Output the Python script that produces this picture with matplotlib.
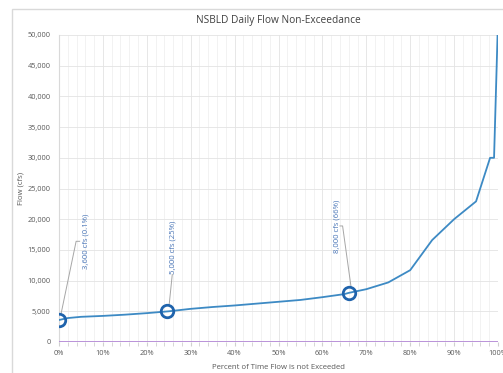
import matplotlib.pyplot as plt
from matplotlib.patches import Rectangle
from matplotlib.ticker import MultipleLocator, FuncFormatter

# Data
pct = [0.1, 2, 5, 10, 15, 20, 25, 30, 35, 40, 45, 50, 55, 60, 65, 66, 70, 75, 80, 85, 90, 95, 98.2, 99.1, 99.9]
flow = [3600, 3900, 4100, 4250, 4450, 4700, 5000, 5400, 5700, 5950, 6250, 6550, 6850, 7300, 7800, 8000,
        8600, 9700, 11700, 16600, 20000, 22900, 30000, 30000, 50000]

zero_pct = [0, 100]
zero_flow = [0, 0]

mark_pct = [0.1, 24.7, 66.1]
mark_flow = [3600, 5000, 8000]
mark_labels = ["3,600 cfs (0.1%)", "5,000 cfs (25%)", "8,000 cfs (66%)"]
label_pct = [6.1, 26.0, 63.3]
label_flow = [16400, 15500, 18900]
elbow_pct = [3.9, 25.8, 64.6]
elbow_flow = [16400, 11000, 18900]
elbow_end = [4.7, 25.8, 64.0]

fig = plt.figure(figsize=(5.03, 3.73), dpi=100)
plt.rcParams['font.family'] = ['Open Sans', 'DejaVu Sans']

# outer chart frame
fig.patches.append(Rectangle((12 / 503, -0.05), 1.0, (373 - 9) / 373 + 0.05, transform=fig.transFigure,
                             fill=False, edgecolor='#d9d9d9', linewidth=1.0))

ax = fig.add_axes([59 / 503, 31 / 373, 439 / 503, 307 / 373])

ax.plot(zero_pct, zero_flow, color='#b48ad6', linewidth=1.3, zorder=3)
ax.plot(pct, flow, color='#3d8ac4', linewidth=1.3, zorder=4)
ax.plot(mark_pct, mark_flow, linestyle='none', marker='o', markersize=9, markerfacecolor='none',
        markeredgecolor='#1f63ac', markeredgewidth=2.0, zorder=5)

for mp, mf, lab, lp, lf, ep, ef, ee in zip(mark_pct, mark_flow, mark_labels, label_pct, label_flow,
                                           elbow_pct, elbow_flow, elbow_end):
    ax.plot([mp + 0.4, ep, ee], [mf + 1100, ef, ef], color='#a6a6a6', linewidth=0.7, zorder=2,
            clip_on=False)
    ax.text(lp, lf, lab, rotation=90, ha='center', va='center', fontsize=5.6, color='#4a76b8')

ax.set_xlim(0, 100)
ax.set_ylim(0, 50000)
ax.xaxis.set_major_locator(MultipleLocator(10))
ax.xaxis.set_minor_locator(MultipleLocator(2))
ax.yaxis.set_major_locator(MultipleLocator(5000))
ax.xaxis.set_major_formatter(FuncFormatter(lambda v, p: f"{int(v)}%"))
ax.yaxis.set_major_formatter(FuncFormatter(lambda v, p: f"{int(v):,}"))

ax.grid(True, which='major', color='#e3e3e3', linewidth=0.6)
ax.grid(True, which='minor', axis='x', color='#ededed', linewidth=0.5)
ax.set_axisbelow(True)

for s in ['top', 'right', 'bottom']:
    ax.spines[s].set_visible(False)
ax.spines['left'].set_color('#d9d9d9')
ax.spines['left'].set_linewidth(0.8)

ax.tick_params(axis='both', which='major', labelsize=5.3, colors='#595959', length=0, pad=6)
ax.tick_params(axis='x', which='major', length=3, color='#d0d0d0', direction='out', pad=3)
ax.tick_params(axis='x', which='minor', length=3, color='#d0d0d0', direction='out')

ax.set_title('NSBLD Daily Flow Non-Exceedance', fontsize=7.3, color='#404040', pad=9)
ax.set_xlabel('Percent of Time Flow is not Exceeded', fontsize=5.6, color='#595959', labelpad=5)
ax.set_ylabel('Flow (cfs)', fontsize=5.6, color='#595959')
ax.yaxis.set_label_coords(-0.0775, 0.5)

fig.savefig('out.png', dpi=100)
